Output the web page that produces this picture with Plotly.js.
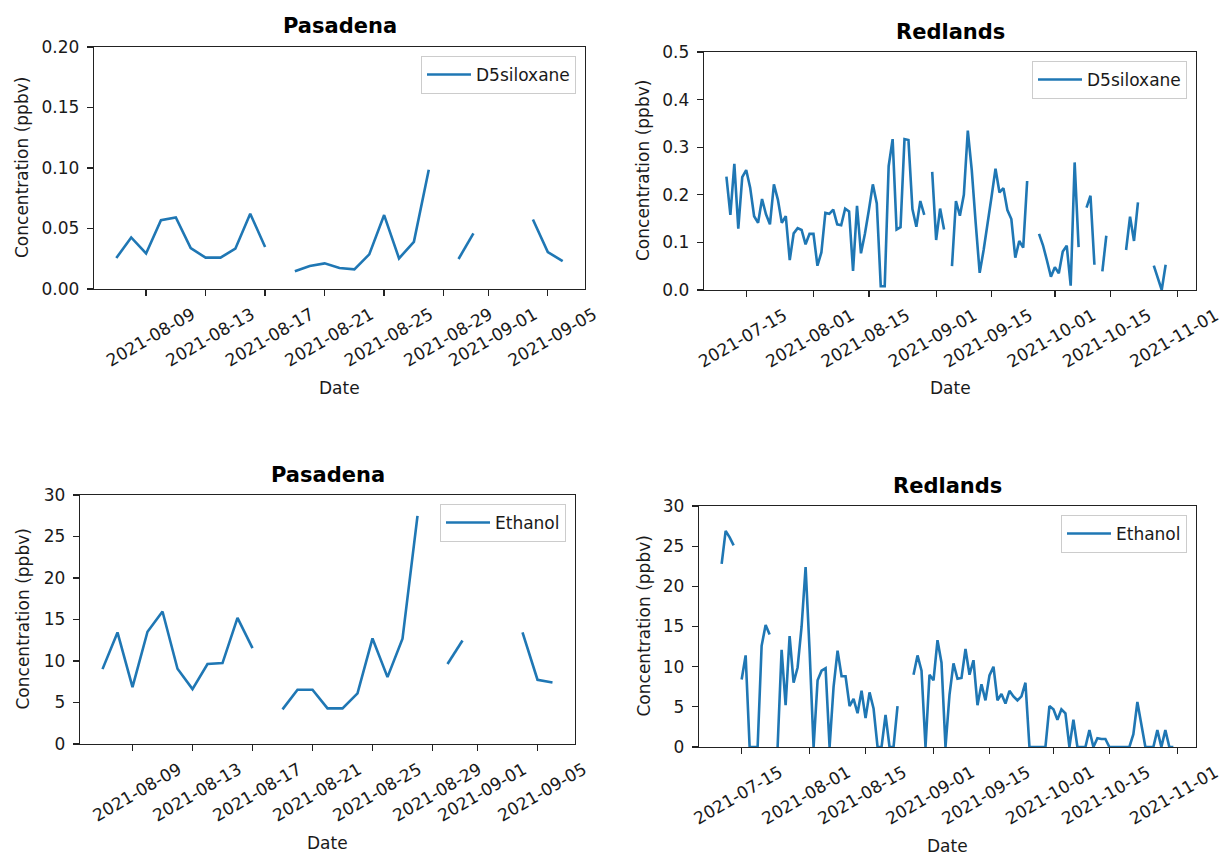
<!DOCTYPE html>
<html>
<head>
<meta charset="utf-8">
<script src="https://cdn.plot.ly/plotly-3.0.1.min.js"></script>
<style>
  html, body { margin: 0; padding: 0; background: #ffffff; }
  #chart { width: 1225px; height: 857px; }
</style>
</head>
<body>
<div id="chart"></div>
<script>
// ---- Pasadena: daily samples ----
const pasadenaDates = [
  '2021-08-07','2021-08-08','2021-08-09','2021-08-10','2021-08-11','2021-08-12','2021-08-13',
  '2021-08-14','2021-08-15','2021-08-16','2021-08-17','2021-08-18','2021-08-19','2021-08-20',
  '2021-08-21','2021-08-22','2021-08-23','2021-08-24','2021-08-25','2021-08-26','2021-08-27',
  '2021-08-28','2021-08-29','2021-08-30','2021-08-31','2021-09-01','2021-09-02','2021-09-03',
  '2021-09-04','2021-09-05','2021-09-06'
];
const pasadenaD5 = [
  0.0256, 0.0426, 0.0294, 0.0569, 0.0591, 0.0338, 0.0259, 0.0259, 0.0333, 0.0622, 0.0347,
  null,
  0.0146, 0.0190, 0.0212, 0.0173, 0.0162, 0.0286, 0.0611, 0.0253, 0.0390, 0.0985,
  null,
  0.0248, 0.0460,
  null, null, null,
  0.0575, 0.0305, 0.0231
];
const pasadenaEthanol = [
  9.02, 13.44, 6.86, 13.52, 15.96, 9.07, 6.62, 9.63, 9.75, 15.2, 11.55,
  null,
  4.17, 6.54, 6.54, 4.29, 4.29, 6.10, 12.72, 8.06, 12.68, 27.48,
  null,
  9.63, 12.47,
  null, null, null,
  13.44, 7.74, 7.42
];
const pasadenaTicks = [
  '2021-08-09','2021-08-13','2021-08-17','2021-08-21','2021-08-25','2021-08-29','2021-09-01','2021-09-05'
];

// ---- Redlands: daily samples ----
const redlandsDates = [
  '2021-07-10','2021-07-11','2021-07-12','2021-07-13','2021-07-14','2021-07-15','2021-07-16',
  '2021-07-17','2021-07-18','2021-07-19','2021-07-20','2021-07-21','2021-07-22','2021-07-23',
  '2021-07-24','2021-07-25','2021-07-26','2021-07-27','2021-07-28','2021-07-29','2021-07-30',
  '2021-07-31',
  '2021-08-01','2021-08-02','2021-08-03','2021-08-04','2021-08-05','2021-08-06','2021-08-07',
  '2021-08-08','2021-08-09','2021-08-10','2021-08-11','2021-08-12','2021-08-13','2021-08-14',
  '2021-08-15','2021-08-16','2021-08-17','2021-08-18','2021-08-19','2021-08-20','2021-08-21',
  '2021-08-22','2021-08-23','2021-08-24','2021-08-25','2021-08-26','2021-08-27','2021-08-28',
  '2021-08-29','2021-08-30','2021-08-31',
  '2021-09-01','2021-09-02','2021-09-03','2021-09-04','2021-09-05','2021-09-06','2021-09-07',
  '2021-09-08','2021-09-09','2021-09-10','2021-09-11','2021-09-12','2021-09-13','2021-09-14',
  '2021-09-15','2021-09-16','2021-09-17','2021-09-18','2021-09-19','2021-09-20','2021-09-21',
  '2021-09-22','2021-09-23','2021-09-24','2021-09-25','2021-09-26','2021-09-27','2021-09-28',
  '2021-09-29','2021-09-30',
  '2021-10-01','2021-10-02','2021-10-03','2021-10-04','2021-10-05','2021-10-06','2021-10-07',
  '2021-10-08','2021-10-09','2021-10-10','2021-10-11','2021-10-12','2021-10-13','2021-10-14',
  '2021-10-15','2021-10-16','2021-10-17','2021-10-18','2021-10-19','2021-10-20','2021-10-21',
  '2021-10-22','2021-10-23','2021-10-24','2021-10-25','2021-10-26','2021-10-27','2021-10-28',
  '2021-10-29','2021-10-30','2021-10-31'
];
const redlandsD5 = [
  0.238, 0.158, 0.265, 0.129, 0.237,
  0.252, 0.215, 0.155, 0.141, 0.191, 0.159, 0.138, 0.222, 0.190, 0.141,
  0.155, 0.063, 0.119, 0.130, 0.126, 0.096, 0.118, 0.118, 0.051, 0.079,
  0.162, 0.160, 0.169, 0.138, 0.136, 0.171, 0.165, 0.040, 0.177, 0.077,
  0.118, 0.168, 0.222, 0.182, 0.008, 0.008, 0.260, 0.317, 0.127, 0.132,
  0.317, 0.315, 0.170, 0.133, 0.187, 0.158, null, 0.248, 0.105, 0.171,
  0.127, null, 0.050, 0.187, 0.156, 0.200, 0.335, 0.252, 0.140, 0.036,
  0.084, 0.145, 0.196, 0.255, 0.205, 0.214, 0.168, 0.149, 0.068, 0.103,
  0.089, 0.229, null, null, 0.118, 0.094, 0.062, 0.028, 0.048, 0.035,
  0.081, 0.093, 0.009, 0.268, 0.090, null, 0.173, 0.198, 0.053, null,
  0.039, 0.114, null, null, null, null, 0.084, 0.154, 0.103, 0.184,
  null, null, null, 0.051, 0.025, 0.000, 0.053, null, null
];
const redlandsEthanol = [
  22.8, 26.9, 26.1, 25.1, null,
  8.4, 11.4, 0, 0, 0, 12.6, 15.2, 14.0, null, 0,
  12.1, 5.2, 13.8, 8.0, 9.9, 15.0, 22.4, 12.0, 0, 8.3,
  9.5, 9.8, 0, 7.5, 12.0, 8.8, 8.8, 5.1, 6.0, 4.2,
  7.0, 3.6, 6.8, 4.8, 0, 0, 4.0, 0, 0, 5.1,
  null, null, null, 9.0, 11.4, 9.5, 0, 9.0, 8.3, 13.3,
  10.5, 0, 6.5, 10.4, 8.5, 8.6, 12.2, 9.0, 10.8, 5.2,
  7.8, 5.8, 8.9, 10.0, 5.8, 6.6, 5.4, 7.0, 6.3, 5.8,
  6.3, 8.0, 0, 0, 0, 0, 0, 5.1, 4.7, 3.4,
  4.7, 4.2, 0, 3.4, 0, 0, 0, 2.1, 0, 1.1,
  1.0, 1.0, 0, 0, 0, 0, 0, 0, 1.6, 5.6,
  2.8, 0, 0, 0, 2.1, 0, 2.1, 0, 0
];
const redlandsTicks = [
  '2021-07-15','2021-08-01','2021-08-15','2021-09-01','2021-09-15','2021-10-01','2021-10-15','2021-11-01'
];

// ---- page geometry (pixels) ----
const W = 1225, H = 857;
const FONT = 'DejaVu Sans, Liberation Sans, sans-serif';
const INK = '#1a1a1a';
const LINE = '#1f77b4';

const panels = [
  { site: 'Pasadena', dates: pasadenaDates, values: pasadenaD5, species: 'D5siloxane',
    box: [94, 585, 47, 289], xRange: ['2021-08-05 12:00', '2021-09-07 12:00'], ticks: pasadenaTicks,
    labelShift: 46,
    yRange: [0, 0.2], dtick: 0.05, fmt: '.2f', titleY: 26, dateY: 388, yTitleX: 22 },
  { site: 'Redlands', dates: redlandsDates, values: redlandsD5, species: 'D5siloxane',
    box: [704, 1196, 52, 290], xRange: ['2021-07-04 08:00', '2021-11-05 16:00'], ticks: redlandsTicks,
    labelShift: 38,
    yRange: [0, 0.5], dtick: 0.1, fmt: '.1f', titleY: 32, dateY: 388, yTitleX: 643 },
  { site: 'Pasadena', dates: pasadenaDates, values: pasadenaEthanol, species: 'Ethanol',
    box: [80, 575, 495, 744], xRange: ['2021-08-05 12:00', '2021-09-07 12:00'], ticks: pasadenaTicks,
    labelShift: 46,
    yRange: [0, 30], dtick: 5, fmt: 'd', titleY: 475, dateY: 843, yTitleX: 22 },
  { site: 'Redlands', dates: redlandsDates, values: redlandsEthanol, species: 'Ethanol',
    box: [699, 1196, 506, 747], xRange: ['2021-07-04 08:00', '2021-11-05 16:00'], ticks: redlandsTicks,
    labelShift: 38,
    yRange: [0, 30], dtick: 5, fmt: 'd', titleY: 486, dateY: 846, yTitleX: 643 }
];

const traces = [];
const annotations = [];
const layout = {
  width: W, height: H,
  margin: { l: 0, r: 0, t: 0, b: 0 },
  paper_bgcolor: '#ffffff',
  plot_bgcolor: '#ffffff',
  font: { family: FONT, size: 17, color: INK },
  showlegend: true,
  annotations: annotations
};

panels.forEach((p, i) => {
  const s = i === 0 ? '' : String(i + 1);
  const [x0, x1, y0, y1] = p.box;

  traces.push({
    type: 'scatter', mode: 'lines',
    x: p.dates, y: p.values, name: p.species,
    line: { color: LINE, width: 2.6 },
    connectgaps: false, hoverinfo: 'skip',
    xaxis: 'x' + s, yaxis: 'y' + s, legend: 'legend' + s
  });

  const common = {
    showline: true, linecolor: '#222222', linewidth: 1.3, mirror: true,
    ticks: 'outside', ticklen: 6, tickwidth: 1.3, tickcolor: '#222222',
    showgrid: false, zeroline: false, fixedrange: true,
    tickfont: { family: FONT, size: 17, color: INK }
  };

  layout['xaxis' + s] = Object.assign({}, common, {
    domain: [x0 / W, x1 / W], anchor: 'y' + s,
    type: 'date', range: p.xRange,
    tickmode: 'array', tickvals: p.ticks, ticktext: p.ticks,
    tickangle: -30, ticklabelshift: p.labelShift, ticklabelstandoff: 2,
    ticklabeloverflow: 'allow'
  });
  layout['yaxis' + s] = Object.assign({}, common, {
    domain: [1 - y1 / H, 1 - y0 / H], anchor: 'x' + s,
    range: p.yRange, tick0: 0, dtick: p.dtick, tickformat: p.fmt,
    ticklabelstandoff: 4
  });

  layout['legend' + s] = {
    x: (x1 - 9) / W, xanchor: 'right',
    y: 1 - (y0 + 9) / H, yanchor: 'top',
    bgcolor: 'rgba(255,255,255,0.8)', bordercolor: '#cccccc', borderwidth: 1,
    font: { family: FONT, size: 17, color: INK },
    itemwidth: 44
  };

  // subplot title
  annotations.push({
    xref: 'paper', yref: 'paper',
    x: (x0 + x1) / 2 / W, y: 1 - p.titleY / H,
    xanchor: 'center', yanchor: 'middle', showarrow: false,
    text: p.site, font: { family: FONT, size: 21, color: '#000000', weight: 'bold' }
  });
  // x axis title
  annotations.push({
    xref: 'paper', yref: 'paper',
    x: (x0 + x1) / 2 / W, y: 1 - p.dateY / H,
    xanchor: 'center', yanchor: 'middle', showarrow: false,
    text: 'Date', font: { family: FONT, size: 17, color: INK }
  });
  // y axis title
  annotations.push({
    xref: 'paper', yref: 'paper',
    x: p.yTitleX / W, y: 1 - (y0 + y1) / 2 / H,
    xanchor: 'center', yanchor: 'middle', showarrow: false, textangle: -90,
    text: 'Concentration (ppbv)', font: { family: FONT, size: 17, color: INK }
  });
});

Plotly.newPlot('chart', traces, layout, { staticPlot: true, displayModeBar: false });
</script>
</body>
</html>
